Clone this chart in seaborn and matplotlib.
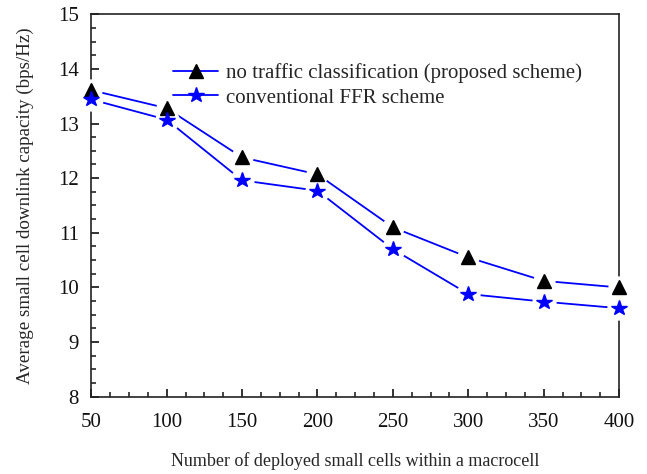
import numpy as np
import pandas as pd
import matplotlib
matplotlib.use('Agg')
import matplotlib.pyplot as plt
import seaborn as sns
from matplotlib.ticker import MultipleLocator

cells = [50, 100, 150, 200, 250, 300, 350, 400]
proposed = [13.61, 13.28, 12.38, 12.07, 11.10, 10.55, 10.12, 10.00]
conventional = [13.44, 13.07, 11.96, 11.77, 10.70, 9.88, 9.74, 9.62]
series_names = ['no traffic classification (proposed scheme)', 'conventional FFR scheme']

sns.set_theme(style='ticks')
plt.rcParams['font.family'] = ['Liberation Serif', 'DejaVu Serif']
plt.rcParams['xtick.direction'] = 'in'
plt.rcParams['ytick.direction'] = 'in'

df = pd.DataFrame({'cells': cells * 2,
                   'capacity': proposed + conventional,
                   'scheme': [series_names[0]] * len(cells) + [series_names[1]] * len(cells)})

fig, ax = plt.subplots(figsize=(6.47, 4.74), dpi=100)

styles = {series_names[0]: dict(marker='^', color='black', ms=10),
          series_names[1]: dict(marker='*', color='blue', ms=11.5)}

for name in series_names:
    d = df[df['scheme'] == name]
    sns.lineplot(data=d, x='cells', y='capacity', ax=ax, color='blue', lw=1.3,
                 legend=False, zorder=2)
    # white halo so the line stops short of each marker
    ax.plot(d['cells'], d['capacity'], ls='none', marker='o', ms=styles[name]['ms'] + 5,
            mfc='white', mec='white', zorder=3, clip_on=False)
    ax.plot(d['cells'], d['capacity'], ls='none', marker=styles[name]['marker'],
            ms=styles[name]['ms'], mfc=styles[name]['color'], mec=styles[name]['color'],
            zorder=4, clip_on=False)

handles = [plt.Line2D([0], [0], color='blue', lw=1.3, marker='^', ms=10,
                      mfc='black', mec='black'),
           plt.Line2D([0], [0], color='blue', lw=1.3, marker='*', ms=11.5,
                      mfc='blue', mec='blue')]
ax.legend(handles, series_names, loc='upper left', bbox_to_anchor=(0.12, 0.92),
          frameon=False, fontsize=15, handlelength=2.15, labelspacing=0.22,
          handletextpad=0.4)

ax.set_xlim(50, 400)
ax.set_ylim(8, 15)
ax.xaxis.set_major_locator(MultipleLocator(50))
ax.xaxis.set_minor_locator(MultipleLocator(12.5))
ax.yaxis.set_major_locator(MultipleLocator(1))
ax.yaxis.set_minor_locator(MultipleLocator(0.25))
ax.tick_params(which='major', length=6, width=1.2, labelsize=15,
               top=False, right=False, colors='#111111')
ax.tick_params(axis='x', which='major', pad=12)
ax.tick_params(axis='y', which='major', pad=9)
ax.tick_params(which='minor', length=3.5, width=1.2, top=False, right=False)
for s in ax.spines.values():
    s.set_linewidth(1.2)
    s.set_color('#222222')

ax.set_xlabel('Number of deployed small cells within a macrocell', fontsize=13, labelpad=14)
ax.set_ylabel('Average small cell downlink capacity (bps/Hz)', fontsize=13.7, labelpad=17)

fig.subplots_adjust(left=0.141, right=0.957, top=0.970, bottom=0.163)
fig.savefig('out.png', dpi=100)
